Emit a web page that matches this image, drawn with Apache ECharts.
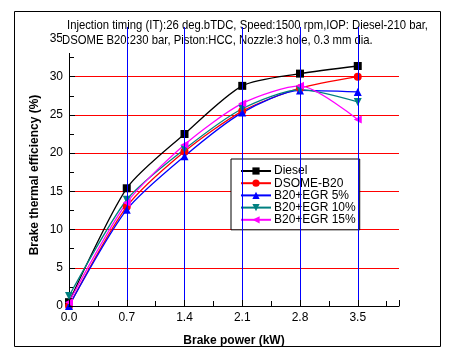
<!DOCTYPE html>
<html>
<head>
<meta charset="utf-8">
<script src="https://cdn.jsdelivr.net/npm/echarts@6/dist/echarts.min.js"></script>
<style>html,body{margin:0;padding:0;background:#fff;}#c{width:456px;height:362px;}</style>
</head>
<body>
<div id="c"></div>
<script>
var xValues = [0.0, 0.7, 1.4, 2.1, 2.8, 3.5];
var xTickLabels = ['0.0', '0.7', '1.4', '2.1', '2.8', '3.5'];
var yTickLabels = ['0', '5', '10', '15', '20', '25', '30', '35'];
var seriesNames = ['Diesel', 'DSOME-B20', 'B20+EGR 5%', 'B20+EGR 10%', 'B20+EGR 15%'];
var diesel = [0.5, 15.4, 22.5, 28.8, 30.4, 31.4];
var dsome = [0.0, 13.0, 20.2, 25.5, 28.5, 30.0];
var egr5 = [0.0, 12.6, 19.6, 25.3, 28.2, 28.0];
var egr10 = [1.3, 13.9, 20.5, 25.8, 28.3, 26.7];
var egr15 = [0.5, 13.5, 21.1, 26.5, 28.8, 24.4];
var titleLine1 = 'Injection timing (IT):26 deg.bTDC, Speed:1500 rpm,IOP: Diesel-210 bar,';
var titleLine2 = 'DSOME B20:230 bar, Piston:HCC, Nozzle:3 hole, 0.3 mm dia.';
var yAxisTitle = 'Brake thermal efficiency (%)';
var xAxisTitle = 'Brake power (kW)';

function pairs(vals) { return xValues.map(function (x, i) { return [x, vals[i]]; }); }

var colors = ['#000000', '#ff0000', '#0000ff', '#008080', '#ff00ff'];
var symbols = ['rect', 'circle', 'triangle', 'triangle', 'triangle'];
var rotates = [0, 0, 0, 180, 90];
var allData = [diesel, dsome, egr5, egr10, egr15];

var series = allData.map(function (d, i) {
  return {
    name: seriesNames[i], type: 'line', data: pairs(d), smooth: 0.25,
    symbol: symbols[i], symbolSize: 8, symbolRotate: rotates[i],
    itemStyle: { color: colors[i] }, lineStyle: { color: colors[i], width: 1.3 },
    z: 2
  };
});

var font = 'Liberation Sans, Arial, sans-serif';
var titleFont = '13px "Liberation Sans", Arial, sans-serif';
var cv = document.createElement('canvas').getContext('2d');
cv.font = titleFont;
var w1 = cv.measureText(titleLine1).width;
var sx = 361 / w1;

var chart = echarts.init(document.getElementById('c'), null, { renderer: 'canvas' });
chart.setOption({
  animation: false,
  backgroundColor: '#ffffff',
  grid: { left: 69, right: 57, top: 27, bottom: 56, containLabel: false },
  xAxis: [{
    type: 'value', min: 0, max: 4.0, interval: 0.7, z: 5,
    name: xAxisTitle, nameLocation: 'middle', nameGap: 29,
    nameTextStyle: { fontFamily: font, fontSize: 12, fontWeight: 'bold', color: '#000' },
    axisLine: { show: true, lineStyle: { color: '#000', width: 1 } },
    axisTick: { show: true, inside: true, length: 6, lineStyle: { color: '#000' } },
    axisLabel: { margin: 6, fontFamily: font, fontSize: 12, color: '#000',
      formatter: function (v) { var i = xValues.indexOf(Math.round(v * 100) / 100); return i >= 0 ? xTickLabels[i] : ''; } },
    splitLine: { show: true, showMinLine: false, showMaxLine: false, lineStyle: { color: '#0000ff', width: 1 } }
  }, {
    type: 'value', min: 0, max: 4.0, interval: 0.35, z: 5, position: 'bottom',
    axisLine: { show: false }, axisLabel: { show: false }, splitLine: { show: false },
    axisTick: { show: true, inside: true, length: 5, lineStyle: { color: '#000' } }
  }],
  yAxis: {
    type: 'value', min: 0, max: 36.5, interval: 5, z: 0,
    axisLine: { show: true, lineStyle: { color: '#000', width: 1 } },
    axisTick: { show: true, inside: true, length: 6, lineStyle: { color: '#000' } },
    minorTick: { show: true, splitNumber: 2, length: 5, lineStyle: { color: '#000' } },
    axisLabel: { margin: 6, fontFamily: font, fontSize: 12, color: '#000',
      formatter: function (v) { var i = Math.round(v / 5); return (Math.abs(v - i * 5) < 1e-6 && yTickLabels[i]) ? yTickLabels[i] : ''; } },
    splitLine: { show: true, showMinLine: false, showMaxLine: false, lineStyle: { color: '#ff0000', width: 1 } }
  },
  legend: {
    orient: 'vertical', left: 231, top: 159,
    data: seriesNames,
    itemWidth: 30, itemHeight: 9, itemGap: 0.2,
    padding: [6, 4, 4, 9],
    borderColor: '#000', borderWidth: 1, backgroundColor: '#fff',
    textStyle: { fontFamily: font, fontSize: 12, color: '#000', padding: [0, 0, 0, -2] }
  },
  graphic: [
    { type: 'rect', z: 3, shape: { x: 62, y: 13, width: 376, height: 40 }, style: { fill: '#fff' }, silent: true },
    { type: 'text', z: 4, x: 67, y: 19, scaleX: sx, style: { text: titleLine1, font: titleFont, fill: '#000', verticalAlign: 'top' } },
    { type: 'text', z: 4, x: 62, y: 34, scaleX: sx, style: { text: titleLine2, font: titleFont, fill: '#000', verticalAlign: 'top' } },
    { type: 'text', z: 4, x: 35, y: 175, rotation: Math.PI / 2, style: { text: yAxisTitle, font: 'bold 12px "Liberation Sans", Arial, sans-serif', fill: '#000', align: 'center', verticalAlign: 'middle' } },
    { type: 'rect', z: 10, shape: { x: 14.5, y: 11.5, width: 426, height: 335 }, style: { fill: null, stroke: '#000', lineWidth: 1 }, silent: true }
  ],
  series: series
});
</script>
</body>
</html>
